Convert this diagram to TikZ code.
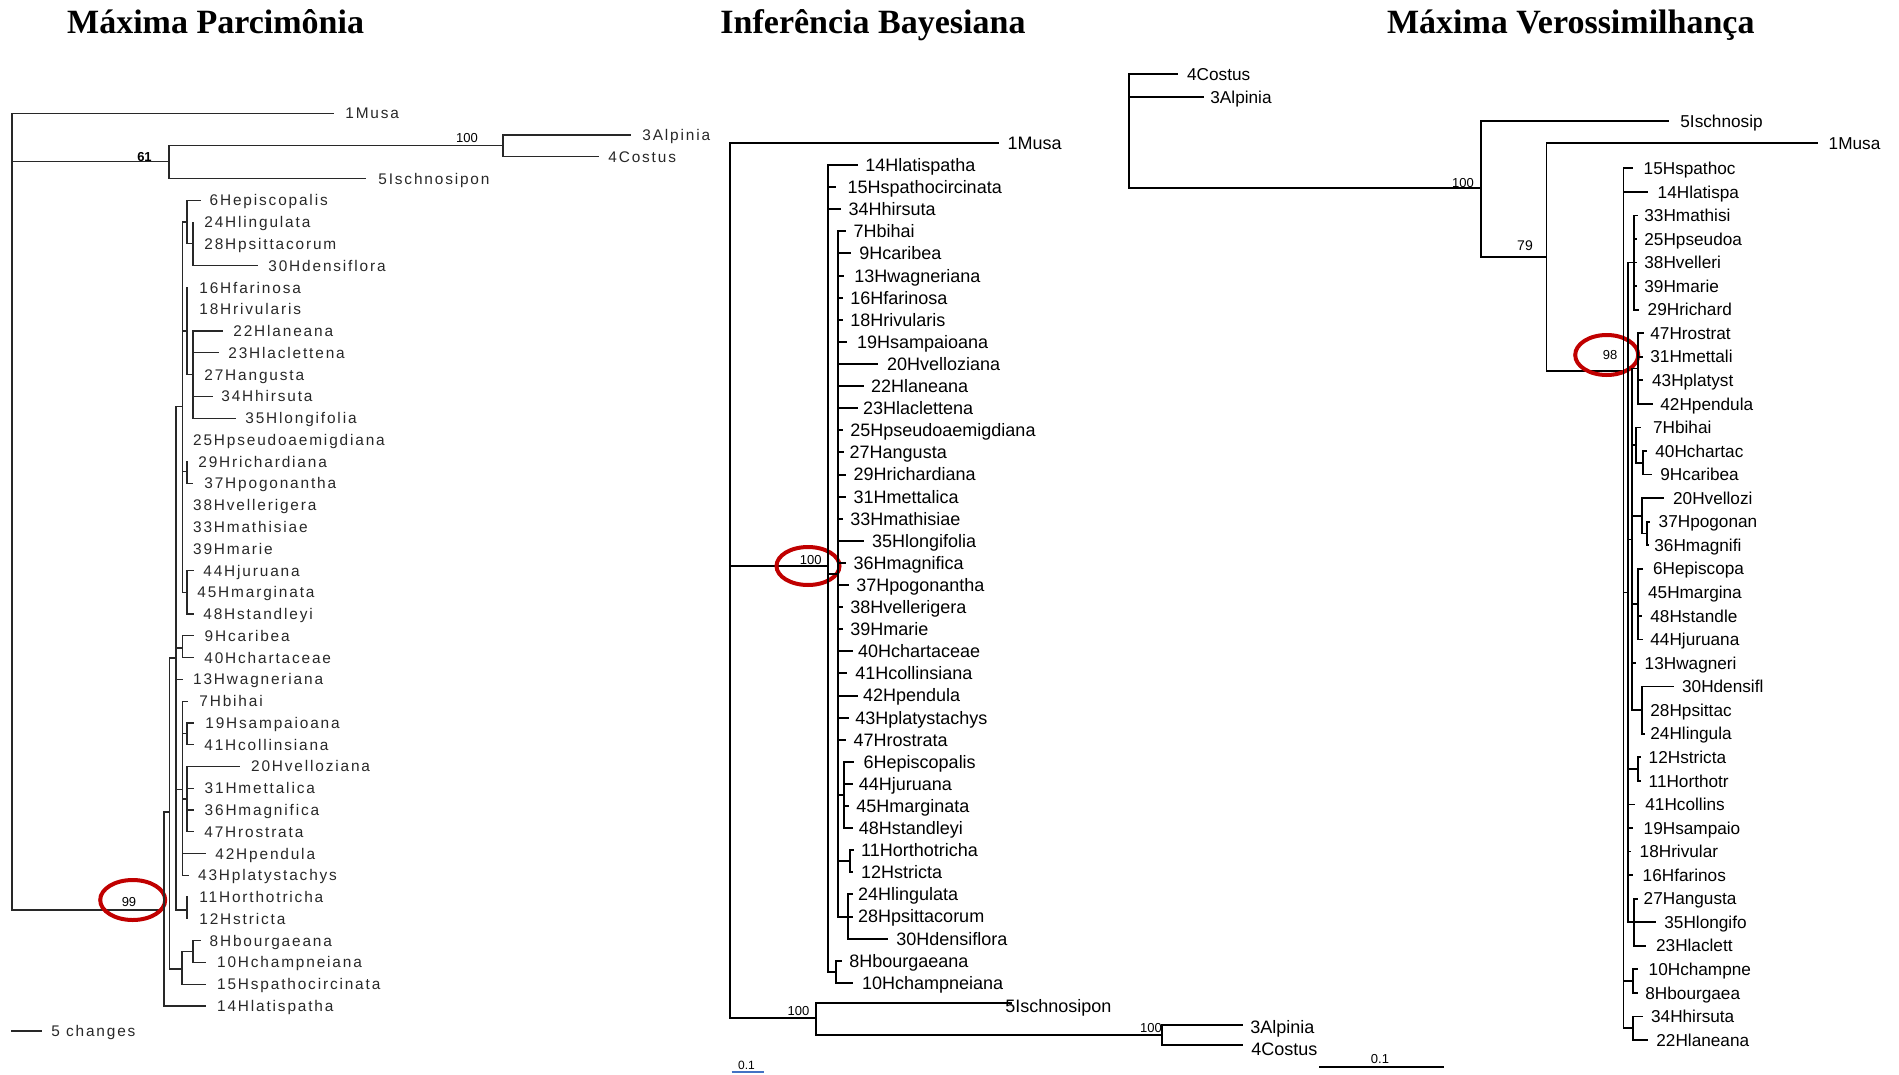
\documentclass[tikz,border=0pt]{standalone}
\usepackage{fontspec}
\usetikzlibrary{shapes.geometric}
\newfontfamily\arialfont{Liberation Sans}
\newfontfamily\mpfont[LetterSpace=12]{Liberation Sans}
\newfontfamily\titlefont{Liberation Serif}
\definecolor{ringred}{RGB}{192,0,0}
\definecolor{mpgray}{RGB}{40,40,40}
\definecolor{barblue}{RGB}{68,114,196}
\newcommand\Leaf[7]{\draw[#1e] (#4,#3) -- (#5,#3); \node[#1l] (#2) at (#6,#3) {#7};}
\newcommand\Lab[5]{\node[#1l] (#2) at (#4,#3) {#5};}
\begin{document}
\begin{tikzpicture}[x=0.5pt,y=-0.5pt,
  mpe/.style={draw=mpgray,line width=0.6pt,line cap=rect},
  bie/.style={draw=black,line width=1pt,line cap=rect},
  mle/.style={draw=black,line width=0.85pt,line cap=rect},
  mpl/.style={anchor=base west,inner sep=0pt,text=mpgray,font=\mpfont\fontsize{7.7}{9}\selectfont,yshift=-2.75pt},
  bil/.style={anchor=base west,inner sep=0pt,font=\arialfont\fontsize{9}{10}\selectfont,yshift=-3.22pt},
  mll/.style={anchor=base west,inner sep=0pt,font=\arialfont\fontsize{8.6}{10}\selectfont,yshift=-3.08pt},
  bs/.style={inner sep=0pt,font=\arialfont\fontsize{6.5}{7}\selectfont},
  ring/.style={draw=ringred,line width=2pt,ellipse,inner sep=0pt},
  ttl/.style={anchor=base,inner sep=0pt,font=\titlefont\bfseries\fontsize{17}{20}\selectfont}]
\fill[white] (0,0) rectangle (1899,1075);
\useasboundingbox (0,0) rectangle (1899,1075);

% ---------------- titles
\node[ttl] (t1) at (215.6,34) {Máxima Parcimônia};
\node[ttl] (t2) at (873,34) {Inferência Bayesiana};
\node[ttl] (t3) at (1570.8,34) {Máxima Verossimilhança};

% ================= LEFT TREE (MP)
\draw[mpe] (12,113.3) -- (12,910);
\Leaf{mp}{mpA}{113.3}{12}{333}{345}{1Musa}
\draw[mpe] (12,161.7) -- (169,161.7);
\node[bs,font=\arialfont\bfseries\fontsize{6.5}{7}\selectfont] (b61) at (144.5,156.7) {61};
\draw[mpe] (169,145.7) -- (169,178.6);
\draw[mpe] (169,145.7) -- (503,145.7);
\node[bs] (b100a) at (467,137.7) {100};
\draw[mpe] (503,135.1) -- (503,156.8);
\Leaf{mp}{mpB}{135.1}{503}{630}{642}{3Alpinia}
\Leaf{mp}{mpC}{156.8}{503}{598}{608}{4Costus}
\Leaf{mp}{mpD}{178.6}{169}{365}{378}{5Ischnosipon}
\draw[mpe] (12,910) -- (164,910);
\node[bs] (b99) at (129,902) {99};
\node[ring,minimum width=32.5pt,minimum height=20pt] (r1) at (132.7,900) {};
\draw[mpe] (164,812) -- (164,1005.9);
\Leaf{mp}{mp14}{1005.9}{164}{205}{216.7}{14Hlatispatha}
\draw[mpe] (164,812) -- (169.3,812) (169.3,658) -- (169.3,969);
\draw[mpe] (169.3,969) -- (182,969) (182,951.7) -- (182,984.1);
\draw[mpe] (182,951.7) -- (193,951.7) (193,940.6) -- (193,962.3);
\Leaf{mp}{mp8}{940.6}{193}{200}{209.3}{8Hbourgaeana}
\Leaf{mp}{mp10}{962.3}{193}{205}{216.7}{10Hchampneiana}
\Leaf{mp}{mp15}{984.1}{182}{205}{216.7}{15Hspathocircinata}
\draw[mpe] (169.3,658) -- (176,658) (176,406.7) -- (176,910);
\draw[mpe] (176,648) -- (182.7,648) (182.7,635.8) -- (182.7,657.6);
\Leaf{mp}{mp9}{635.8}{182.7}{193}{204.3}{9Hcaribea}
\Leaf{mp}{mp40}{657.6}{182.7}{193}{204}{40Hchartaceae}
\Leaf{mp}{mp13}{679.3}{176}{182.7}{192.7}{13Hwagneriana}
\draw[mpe] (176,910) -- (187,910) (187,897) -- (187,918.8);
\Lab{mp}{mp11}{897}{199}{11Horthotricha}
\Lab{mp}{mp12}{918.8}{199}{12Hstricta}
\draw[mpe] (176,789.3) -- (182.7,789.3) (182.7,701.1) -- (182.7,875.3);
\Leaf{mp}{mp7}{701.1}{182.7}{187}{199}{7Hbihai}
\draw[mpe] (182.7,733.8) -- (187,733.8) (187,722.9) -- (187,744.6);
\Leaf{mp}{mp19}{722.9}{187}{193}{205}{19Hsampaioana}
\Leaf{mp}{mp41}{744.6}{187}{193}{204}{41Hcollinsiana}
\draw[mpe] (182.7,799) -- (187,799) (187,766.4) -- (187,831.7);
\Leaf{mp}{mp20}{766.4}{187}{239}{250.7}{20Hvelloziana}
\Leaf{mp}{mp31}{788.2}{187}{193}{204.3}{31Hmettalica}
\Leaf{mp}{mp36}{809.9}{187}{193}{204.3}{36Hmagnifica}
\Leaf{mp}{mp47}{831.7}{187}{193}{204}{47Hrostrata}
\Leaf{mp}{mp42}{853.5}{182.7}{205}{215}{42Hpendula}
\Leaf{mp}{mp43}{875.3}{182.7}{188}{197.7}{43Hplatystachys}
\draw[mpe] (176,406.7) -- (182.7,406.7) (182.7,221.7) -- (182.7,592.7);
\draw[mpe] (182.7,222) -- (187,222) (187,200.4) -- (187,243.9);
\Leaf{mp}{mp6}{200.4}{187}{200}{209.3}{6Hepiscopalis}
\draw[mpe] (187,243.9) -- (193,243.9) (193,222.2) -- (193,265.7);
\Lab{mp}{mp24}{222.2}{204}{24Hlingulata}
\Lab{mp}{mp28}{243.9}{204}{28Hpsittacorum}
\Leaf{mp}{mp30}{265.7}{193}{257}{268}{30Hdensiflora}
\draw[mpe] (182.7,331) -- (187,331) (187,287.5) -- (187,374.5);
\Lab{mp}{mp16}{287.5}{199}{16Hfarinosa}
\Lab{mp}{mp18}{309.2}{199}{18Hrivularis}
\draw[mpe] (187,374.5) -- (193,374.5) (193,331) -- (193,418.1);
\Leaf{mp}{mp22}{331}{193}{222}{233}{22Hlaneana}
\Leaf{mp}{mp23}{352.8}{193}{218}{228}{23Hlaclettena}
\Lab{mp}{mp27}{374.5}{204}{27Hangusta}
\Leaf{mp}{mp34}{396.3}{193}{212}{221}{34Hhirsuta}
\Leaf{mp}{mp35}{418.1}{193}{235}{245}{35Hlongifolia}
\Lab{mp}{mp25}{439.9}{192.7}{25Hpseudoaemigdiana}
\draw[mpe] (182.7,471.7) -- (187,471.7) (187,461.6) -- (187,483.4);
\Lab{mp}{mp29}{461.6}{198}{29Hrichardiana}
\Leaf{mp}{mp37}{483.4}{187}{192}{204}{37Hpogonantha}
\Lab{mp}{mp38}{505.2}{192.7}{38Hvellerigera}
\Lab{mp}{mp33}{526.9}{192.7}{33Hmathisiae}
\Lab{mp}{mp39}{548.7}{192.7}{39Hmarie}
\draw[mpe] (182.7,592.2) -- (187,592.2) (187,570.5) -- (187,614);
\Leaf{mp}{mp44}{570.5}{187}{193}{203}{44Hjuruana}
\Lab{mp}{mp45}{592.2}{197}{45Hmarginata}
\Leaf{mp}{mp48}{614}{187}{193}{203}{48Hstandleyi}
\draw[mpe] (12,1031) -- (41,1031);
\node[mpl] (mpsc) at (51,1031) {5 changes};

% ================= MIDDLE TREE (BI)
\draw[bie] (730,143) -- (730,1018.3);
\Leaf{bi}{biMusa}{143}{730}{998.3}{1007.3}{1Musa}
\draw[bie] (730,566) -- (828.3,566);
\node[bs] (b100b) at (810.8,560) {100};
\node[ring,minimum width=31.5pt,minimum height=19pt] (r2) at (808,566) {};
\draw[bie] (828.3,165.1) -- (828.3,971.8);
\Leaf{bi}{bi14}{165.1}{828.3}{856.7}{865}{14Hlatispatha}
\Leaf{bi}{bi15}{187.2}{828.3}{835}{847.3}{15Hspathocircinata}
\Leaf{bi}{bi34}{209.3}{828.3}{840}{848.3}{34Hhirsuta}
\draw[bie] (828.3,573.9) -- (838.3,573.9) (838.3,231.4) -- (838.3,916.5);
\Leaf{bi}{bi7}{231.4}{838.3}{845}{853.3}{7Hbihai}
\Leaf{bi}{bi9}{253.5}{838.3}{850}{859}{9Hcaribea}
\Leaf{bi}{bi13}{275.6}{838.3}{843}{854}{13Hwagneriana}
\Leaf{bi}{bi16}{297.7}{838.3}{842}{850}{16Hfarinosa}
\Leaf{bi}{bi18}{319.8}{838.3}{842}{850}{18Hrivularis}
\Leaf{bi}{bi19}{341.9}{838.3}{846}{856.7}{19Hsampaioana}
\Leaf{bi}{bi20}{364}{838.3}{876.7}{886.7}{20Hvelloziana}
\Leaf{bi}{bi22}{386.1}{838.3}{863.3}{870.7}{22Hlaneana}
\Leaf{bi}{bi23}{408.2}{838.3}{856.7}{862.7}{23Hlaclettena}
\Leaf{bi}{bi25}{430.3}{838.3}{842}{850}{25Hpseudoaemigdiana}
\Leaf{bi}{bi27}{452.4}{838.3}{843}{849.3}{27Hangusta}
\Leaf{bi}{bi29}{474.5}{838.3}{845}{853.3}{29Hrichardiana}
\Leaf{bi}{bi31}{496.6}{838.3}{845}{853.3}{31Hmettalica}
\Leaf{bi}{bi33}{518.7}{838.3}{842}{850}{33Hmathisiae}
\Leaf{bi}{bi35}{540.8}{838.3}{863.3}{871.7}{35Hlongifolia}
\Leaf{bi}{bi36}{562.9}{838.3}{845}{853.3}{36Hmagnifica}
\Leaf{bi}{bi37}{585}{838.3}{848}{856}{37Hpogonantha}
\Leaf{bi}{bi38}{607.1}{838.3}{842}{850}{38Hvellerigera}
\Leaf{bi}{bi39}{629.2}{838.3}{842}{850}{39Hmarie}
\Leaf{bi}{bi40}{651.3}{838.3}{851.7}{857.7}{40Hchartaceae}
\Leaf{bi}{bi41}{673.4}{838.3}{846}{855}{41Hcollinsiana}
\Leaf{bi}{bi42}{695.5}{838.3}{856.7}{862.7}{42Hpendula}
\Leaf{bi}{bi43}{717.6}{838.3}{848}{855}{43Hplatystachys}
\Leaf{bi}{bi47}{739.7}{838.3}{845}{853.3}{47Hrostrata}
\draw[bie] (838.3,795) -- (844.4,795) (844.4,761.8) -- (844.4,828.1);
\Leaf{bi}{bi6}{761.8}{844.4}{853}{863.3}{6Hepiscopalis}
\Leaf{bi}{bi44}{783.9}{844.4}{852}{858.5}{44Hjuruana}
\Leaf{bi}{bi45}{806}{844.4}{848}{855.9}{45Hmarginata}
\Leaf{bi}{bi48}{828.1}{844.4}{852}{858.5}{48Hstandleyi}
\draw[bie] (838.3,861.2) -- (850,861.2) (850,850.2) -- (850,872.3);
\Leaf{bi}{bi11}{850.2}{850}{853}{860.8}{11Horthotricha}
\Leaf{bi}{bi12}{872.3}{850}{852}{860.8}{12Hstricta}
\draw[bie] (838.3,916.5) -- (848.2,916.5) (848.2,894.4) -- (848.2,938.6);
\Leaf{bi}{bi24}{894.4}{848.2}{852}{857.8}{24Hlingulata}
\Leaf{bi}{bi28}{916.5}{848.2}{852}{857.8}{28Hpsittacorum}
\Leaf{bi}{bi30}{938.6}{848.2}{886.5}{896}{30Hdensiflora}
\draw[bie] (828.3,971.8) -- (836,971.8) (836,960.7) -- (836,982.8);
\Leaf{bi}{bi8}{960.7}{836}{840.5}{849}{8Hbourgaeana}
\Leaf{bi}{bi10}{982.8}{836}{852}{861.6}{10Hchampneiana}
\draw[bie] (730,1018.3) -- (815.7,1018.3) (815.7,1002.7) -- (815.7,1035);
\node[bs] (b100c) at (798.5,1011) {100};
\draw[bie] (815.7,1002.7) -- (1010.8,1002.7);
\node[bil] (bi5) at (1005,1006) {5Ischnosipon};
\draw[bie] (815.7,1035) -- (1162,1035) (1162,1025) -- (1162,1045);
\node[bs] (b100d) at (1151,1028) {100};
\draw[bie] (1162,1025) -- (1242.4,1025);
\node[bil] (bi3) at (1250,1027) {3Alpinia};
\draw[bie] (1162,1045) -- (1242.4,1045);
\node[bil] (bi4) at (1251,1049) {4Costus};
\draw[barblue,line width=0.8pt] (731.5,1071.7) -- (764,1071.7);
\node[bs,font=\arialfont\fontsize{6}{7}\selectfont] (bisc) at (746.5,1065) {0.1};

% ================= RIGHT TREE (ML)
\draw[mle] (1129,74) -- (1129,188.3);
\Leaf{ml}{mlC}{74}{1129}{1177.3}{1186.7}{4Costus}
\Leaf{ml}{mlA}{97.3}{1129}{1203.3}{1210}{3Alpinia}
\draw[mle] (1129,188.3) -- (1480.7,188.3);
\node[bs] (b100e) at (1463,183) {100};
\draw[mle] (1480.7,121) -- (1480.7,257.3);
\Leaf{ml}{ml5}{121}{1480.7}{1668.3}{1680}{5Ischnosip}
\draw[mle] (1480.7,257.3) -- (1546.5,257.3);
\node[bs,font=\arialfont\fontsize{7}{8}\selectfont] (b79) at (1525,246) {79};
\draw[mle] (1546.5,143.3) -- (1546.5,370.7);
\Leaf{ml}{ml1}{143.3}{1546.5}{1816.7}{1828.3}{1Musa}
\draw[mle] (1546.5,370.7) -- (1623.5,370.7);
\node[bs] (b98) at (1610,355) {98};
\node[ring,minimum width=31.5pt,minimum height=20pt] (r3) at (1606.7,355) {};
\draw[mle] (1623.5,168.3) -- (1623.5,1028.2);
\Leaf{ml}{ml15}{168.3}{1623.5}{1632}{1643.3}{15Hspathoc}
\Leaf{ml}{ml14}{191.9}{1623.5}{1647.3}{1657.3}{14Hlatispa}
\draw[mle] (1623.5,592.4) -- (1628,592.4) (1628,262.5) -- (1628,922.2);
\draw[mle] (1628,262.5) -- (1634,262.5) (1634,215.4) -- (1634,309.7);
\Leaf{ml}{ml33}{215.4}{1634}{1637}{1644}{33Hmathisi}
\Leaf{ml}{ml25}{239}{1634}{1636}{1644}{25Hpseudoa}
\Leaf{ml}{ml38}{262.5}{1634}{1636}{1644}{38Hvelleri}
\Leaf{ml}{ml39}{286.1}{1634}{1636}{1644}{39Hmarie}
\Leaf{ml}{ml29}{309.7}{1634}{1638}{1647.3}{29Hrichard}
\draw[mle] (1628,539.4) -- (1632,539.4) (1632,368.6) -- (1632,710.2);
\draw[mle] (1632,368.6) -- (1638,368.6) (1638,333.2) -- (1638,403.9);
\Leaf{ml}{ml47}{333.2}{1638}{1643}{1650}{47Hrostrat}
\Leaf{ml}{ml31}{356.8}{1638}{1642}{1650}{31Hmettali}
\Leaf{ml}{ml43}{380.3}{1638}{1642}{1651.7}{43Hplatyst}
\Leaf{ml}{ml42}{403.9}{1638}{1651.7}{1660}{42Hpendula}
\draw[mle] (1632,445.2) -- (1636,445.2) (1636,427.5) -- (1636,462.8);
\Leaf{ml}{ml7}{427.5}{1636}{1640}{1652.7}{7Hbihai}
\draw[mle] (1636,462.8) -- (1643,462.8) (1643,451) -- (1643,474.6);
\Leaf{ml}{ml40}{451}{1643}{1646}{1655}{40Hchartac}
\Leaf{ml}{ml9}{474.6}{1643}{1651}{1660}{9Hcaribea}
\draw[mle] (1632,515.8) -- (1641.7,515.8) (1641.7,498.1) -- (1641.7,533.5);
\Leaf{ml}{ml20}{498.1}{1641.7}{1662.7}{1672.7}{20Hvellozi}
\draw[mle] (1641.7,533.5) -- (1646.7,533.5) (1646.7,521.7) -- (1646.7,545.3);
\Leaf{ml}{ml37}{521.7}{1646.7}{1649}{1658.3}{37Hpogonan}
\Leaf{ml}{ml36}{545.3}{1646.7}{1648}{1654}{36Hmagnifi}
\draw[mle] (1632,604.2) -- (1638.3,604.2) (1638.3,568.8) -- (1638.3,639.5);
\Leaf{ml}{ml6}{568.8}{1638.3}{1642}{1652.7}{6Hepiscopa}
\Lab{ml}{ml45}{592.4}{1647.7}{45Hmargina}
\Leaf{ml}{ml48}{615.9}{1638.3}{1641}{1650}{48Hstandle}
\Leaf{ml}{ml44}{639.5}{1638.3}{1642}{1650}{44Hjuruana}
\Leaf{ml}{ml13}{663.1}{1632}{1635}{1644.3}{13Hwagneri}
\draw[mle] (1632,710.2) -- (1641.7,710.2) (1641.7,686.6) -- (1641.7,733.7);
\Leaf{ml}{ml30}{686.6}{1641.7}{1672.7}{1681.7}{30Hdensifl}
\Lab{ml}{ml28}{710.2}{1650}{28Hpsittac}
\Leaf{ml}{ml24}{733.7}{1641.7}{1644}{1650}{24Hlingula}
\draw[mle] (1628,769.1) -- (1638.3,769.1) (1638.3,757.3) -- (1638.3,780.9);
\Leaf{ml}{ml12}{757.3}{1638.3}{1640}{1648.3}{12Hstricta}
\Leaf{ml}{ml11}{780.9}{1638.3}{1640}{1648.3}{11Horthotr}
\Leaf{ml}{ml41}{804.4}{1628}{1634}{1645}{41Hcollins}
\Leaf{ml}{ml19}{828}{1628}{1632}{1643.3}{19Hsampaio}
\Leaf{ml}{ml18}{851.5}{1628}{1630}{1639.3}{18Hrivular}
\Leaf{ml}{ml16}{875.1}{1628}{1632}{1642.3}{16Hfarinos}
\draw[mle] (1628,922.2) -- (1634,922.2) (1634,898.7) -- (1634,945.8);
\Leaf{ml}{ml27}{898.7}{1634}{1637}{1643.3}{27Hangusta}
\Leaf{ml}{ml35}{922.2}{1634}{1655}{1664}{35Hlongifo}
\Leaf{ml}{ml23}{945.8}{1634}{1645}{1655.7}{23Hlaclett}
\draw[mle] (1623.5,981.1) -- (1633.3,981.1) (1633.3,969.3) -- (1633.3,992.9);
\Leaf{ml}{ml10}{969.3}{1633.3}{1637}{1648.3}{10Hchampne}
\Leaf{ml}{ml8}{992.9}{1633.3}{1637}{1645}{8Hbourgaea}
\draw[mle] (1623.5,1028.2) -- (1633.3,1028.2) (1633.3,1016.4) -- (1633.3,1040);
\Leaf{ml}{ml34}{1016.4}{1633.3}{1641.7}{1650.7}{34Hhirsuta}
\Leaf{ml}{ml22}{1040}{1633.3}{1646.7}{1656}{22Hlaneana}
\draw[mle] (1320,1067) -- (1443.6,1067);
\node[bs] (mlsc) at (1380,1059) {0.1};
\end{tikzpicture}
\end{document}
